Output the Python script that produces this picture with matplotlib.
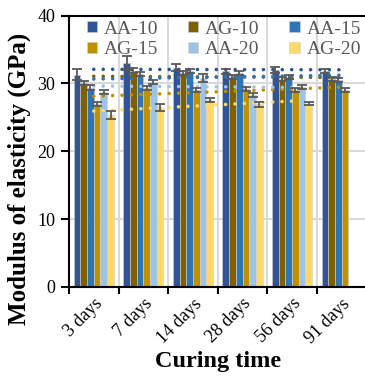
import numpy as np
import matplotlib
matplotlib.use('Agg')
from matplotlib import pyplot as plt

plt.rcParams['font.family'] = ['Liberation Serif', 'DejaVu Serif']

#%%
ages = ['3 days', '7 days', '14 days', '28 days', '56 days', '91 days']
series = ['AA-10', 'AG-10', 'AA-15', 'AG-15', 'AA-20', 'AG-20']
colors = ['#2F5597', '#7F6000', '#2E75B6', '#BF9000', '#9DC3E6', '#FFD966']

aa10 = [31.3, 33.0, 32.3, 31.8, 32.0, 31.9]
ag10 = [30.0, 31.9, 31.6, 31.0, 30.7, 30.6]
aa15 = [29.4, 31.4, 31.8, 31.5, 31.0, 30.5]
ag15 = [27.0, 29.3, 29.1, 29.2, 29.1, 29.0]
aa20 = [28.8, 30.2, 30.8, 28.3, 29.5, np.nan]
ag20 = [25.4, 26.4, 27.6, 26.9, 27.0, np.nan]

aa10_err = [0.8, 1.0, 0.5, 0.4, 0.4, 0.3]
ag10_err = [0.3, 0.4, 0.3, 0.3, 0.3, 0.3]
aa15_err = [0.3, 0.3, 0.3, 0.3, 0.3, 0.3]
ag15_err = [0.3, 0.3, 0.3, 0.3, 0.3, 0.3]
aa20_err = [0.3, 0.3, 0.6, 0.3, 0.3, np.nan]
ag20_err = [0.6, 0.5, 0.3, 0.4, 0.2, np.nan]

values = [aa10, ag10, aa15, ag15, aa20, ag20]
errors = [aa10_err, ag10_err, aa15_err, ag15_err, aa20_err, ag20_err]

#%%
fig = plt.figure(figsize=(3.65, 3.81), dpi=100)
ax = fig.add_axes([0.189, 0.247, 0.815, 0.712])

x = np.arange(len(ages))
width = 0.135
grey = '#595959'

handles = []
for i, (name, vals, errs, c) in enumerate(zip(series, values, errors, colors)):
    pos = x + (i - 2.5) * width
    h = ax.bar(pos, vals, width, color=c, edgecolor='#D0D0D0', linewidth=0.4,
               label=name, zorder=2)
    handles.append(h)
    ax.errorbar(pos, vals, yerr=errs, fmt='none', ecolor=grey,
                elinewidth=1.3, capsize=3.5, capthick=1.3, zorder=4)

# linear trendlines, like the ones excel adds
for vals, c in zip(values, colors):
    v = np.array(vals)
    ok = ~np.isnan(v)
    k, b = np.polyfit(x[ok], v[ok], 1)
    xs = x[ok][[0, -1]]
    ax.plot(xs, k * xs + b, color=c, lw=2.6, ls=(0, (0.01, 2.6)),
            dash_capstyle='round', zorder=3)

ax.set_xlim(-0.5, 5.5)
ax.set_ylim(0, 40)
ax.set_yticks([0, 10, 20, 30, 40])
ax.set_xticks(x - 0.5, minor=False)
ax.set_xticklabels([])
ax.set_xticks(x, minor=True)
ax.set_xticklabels(ages, minor=True, rotation=45, ha='right',
                   rotation_mode='anchor', fontsize=13)
ax.tick_params(axis='x', which='minor', length=0, pad=6)
ax.tick_params(axis='x', which='major', length=5, width=1.5, direction='out')
ax.tick_params(axis='y', length=6, width=1.5, direction='out', labelsize=13, pad=4)

ax.grid(True, axis='y', color='#D9D9D9', lw=1.5, zorder=0)
ax.grid(True, axis='x', which='major', color='#D9D9D9', lw=1.5, zorder=0)
ax.set_axisbelow(True)

for s in ['left', 'bottom', 'top']:
    ax.spines[s].set_linewidth(1.5)
ax.spines['right'].set_visible(False)

ax.set_xlabel('Curing time', fontsize=17.5, fontweight='bold', labelpad=3)
ax.set_ylabel('Modulus of elasticity (GPa)', fontsize=18, fontweight='bold')
ax.yaxis.set_label_coords(-0.128, 0.40)

# matplotlib fills legend columns first, so reorder to get excel's row order
order = [0, 3, 1, 4, 2, 5]
leg = ax.legend([handles[i] for i in order], [series[i] for i in order],
                ncol=3, loc='upper left', bbox_to_anchor=(0.02, 1.025),
                frameon=False, fontsize=14, handlelength=0.55, handleheight=0.55,
                handletextpad=0.35, columnspacing=1.5, labelspacing=0.2,
                borderaxespad=0.2)
for t in leg.get_texts():
    t.set_color(grey)

fig.savefig('out.png', dpi=100)
